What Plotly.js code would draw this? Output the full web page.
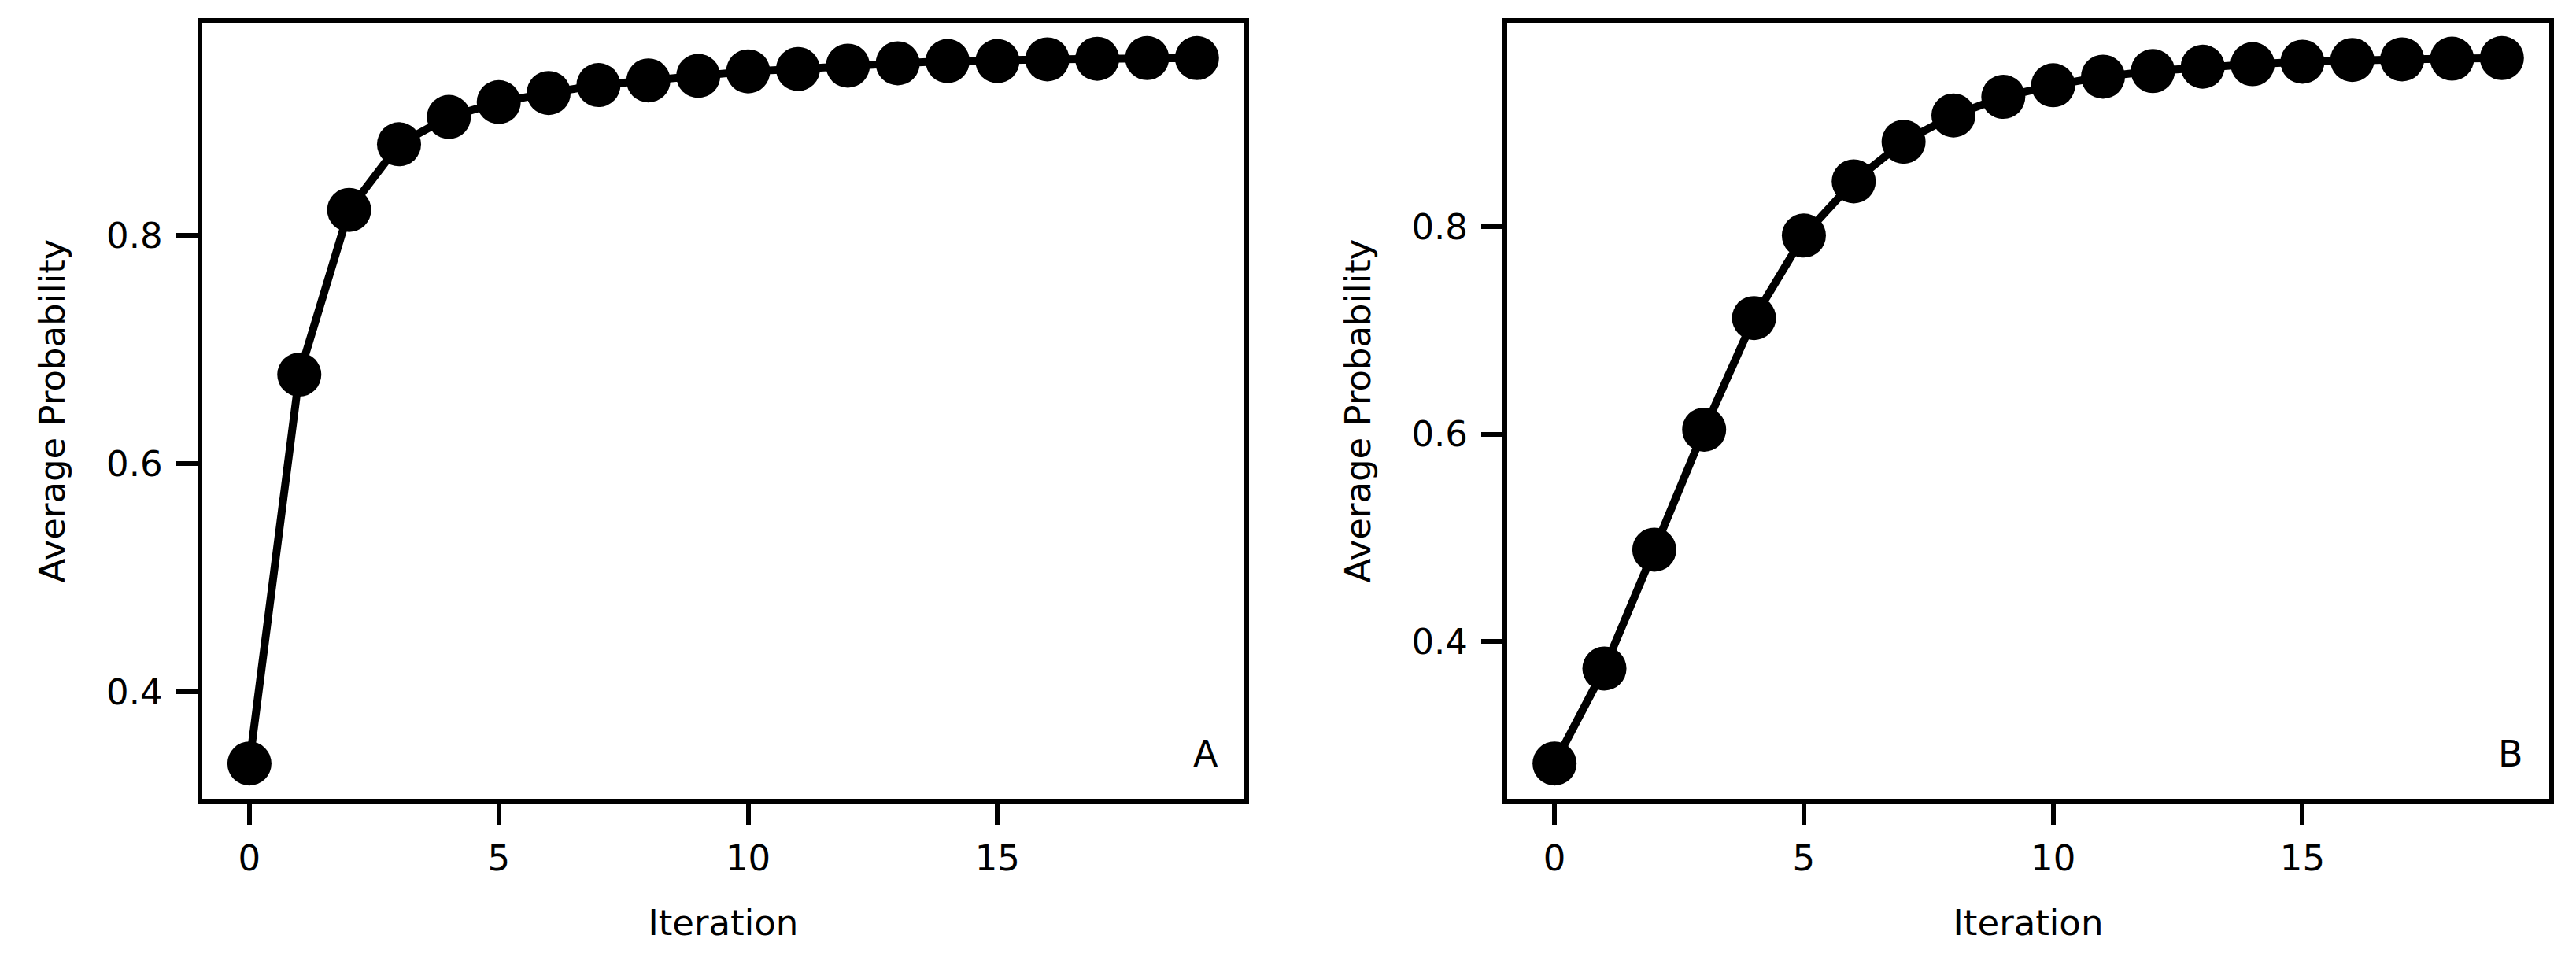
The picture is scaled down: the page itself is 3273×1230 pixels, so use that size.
<!DOCTYPE html>
<html>
<head>
<meta charset="utf-8">
<script src="https://cdn.plot.ly/plotly-3.0.1.min.js"></script>
<style>html,body{margin:0;padding:0;background:#fff;}#chart{width:3273px;height:1230px;}</style>
</head>
<body>
<div id="chart"></div>
<script>
const iterations = [0, 1, 2, 3, 4, 5, 6, 7, 8, 9, 10, 11, 12, 13, 14, 15, 16, 17, 18, 19];
const probA = [0.337, 0.678, 0.8225, 0.880, 0.904, 0.917, 0.925, 0.932, 0.936, 0.940, 0.944, 0.946, 0.949, 0.951, 0.953, 0.953, 0.9545, 0.955, 0.9556, 0.9556];
const probB = [0.2824, 0.374, 0.4886, 0.6044, 0.712, 0.7916, 0.8438, 0.882, 0.9074, 0.9253, 0.9365, 0.9448, 0.9502, 0.9544, 0.9568, 0.9592, 0.9609, 0.9615, 0.9621, 0.9627];
const xTicks = [0, 5, 10, 15];
const yTicks = [0.4, 0.6, 0.8];
const panelLabels = ["A", "B"];
const xTitle = "Iteration";
const yTitle = "Average Probability";

const FONT = "DejaVu Sans, Liberation Sans, sans-serif";
const FS = 45;

function pad(vals, frac) {
  const lo = Math.min(...vals), hi = Math.max(...vals);
  const d = (hi - lo) * frac;
  return [lo - d, hi + d];
}

function trace(y, xa, ya) {
  return {
    x: iterations, y: y, xaxis: xa, yaxis: ya,
    type: "scatter", mode: "lines+markers",
    line: {color: "#000", width: 10},
    marker: {color: "#000", size: 56, line: {width: 0}},
    hoverinfo: "skip", cliponaxis: false
  };
}

function xAxis(domain, anchor) {
  return {
    domain: domain, anchor: anchor,
    range: pad(iterations, 0.05),
    tickmode: "array", tickvals: xTicks, ticktext: xTicks.map(String),
    ticks: "outside", ticklen: 27, tickwidth: 6, tickcolor: "#000",
    ticklabelstandoff: 4,
    showline: true, linewidth: 6, linecolor: "#000", mirror: true,
    showgrid: false, zeroline: false,
    tickfont: {family: FONT, size: FS, color: "#000"},
    title: {text: xTitle, font: {family: FONT, size: FS, color: "#000"}, standoff: 42},
    automargin: false
  };
}

function yAxis(vals, anchor) {
  return {
    domain: [0, 1], anchor: anchor,
    range: pad(vals, 0.05),
    tickmode: "array", tickvals: yTicks, ticktext: yTicks.map(v => v.toFixed(1)),
    ticks: "outside", ticklen: 27, tickwidth: 6, tickcolor: "#000",
    ticklabelstandoff: 8,
    showline: true, linewidth: 6, linecolor: "#000", mirror: true,
    showgrid: false, zeroline: false,
    tickfont: {family: FONT, size: FS, color: "#000"},
    title: {text: yTitle, font: {family: FONT, size: FS, color: "#000"}, standoff: 40},
    automargin: false
  };
}

const W = 3273;
const layout = {
  width: 3273, height: 1230,
  margin: {l: 0, r: 0, t: 29, b: 215, pad: 0},
  paper_bgcolor: "#fff", plot_bgcolor: "#fff",
  showlegend: false,
  xaxis: xAxis([256.7 / W, 1581 / W], "y"),
  yaxis: yAxis(probA, "x"),
  xaxis2: xAxis([1915 / W, 3239 / W], "y2"),
  yaxis2: yAxis(probB, "x2"),
  annotations: panelLabels.map((t, i) => ({
    text: t, showarrow: false,
    xref: (i === 0 ? "x" : "x2") + " domain",
    yref: (i === 0 ? "y" : "y2") + " domain",
    x: 1, y: 0, xanchor: "right", yanchor: "bottom",
    xshift: -31, yshift: 28,
    font: {family: FONT, size: 46, color: "#000"}
  }))
};

Plotly.newPlot("chart", [trace(probA, "x", "y"), trace(probB, "x2", "y2")], layout, {staticPlot: true, displayModeBar: false});
</script>
</body>
</html>
